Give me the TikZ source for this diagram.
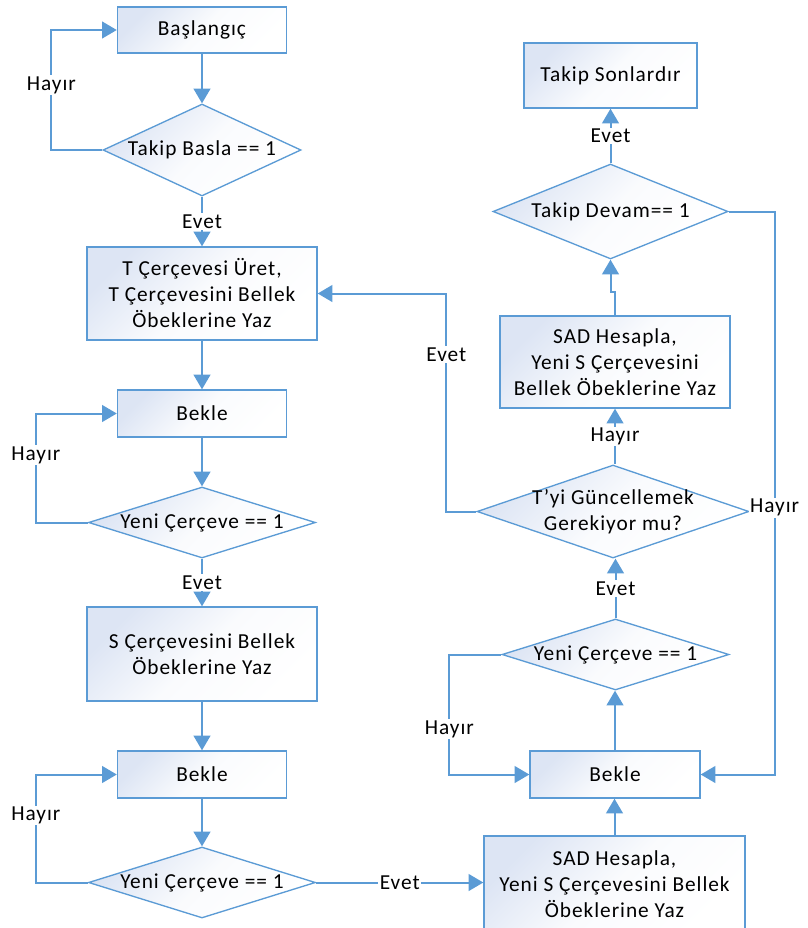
\documentclass[tikz,border=0pt]{standalone}
\usepackage{fontspec}
\setmainfont{Carlito}[LetterSpace=4.5]
\usetikzlibrary{shapes.geometric,arrows.meta}
\definecolor{flowline}{HTML}{5B9BD5}
\definecolor{flowfill}{HTML}{DDE5F4}
\begin{document}
\begin{tikzpicture}[x=0.75pt,y=-0.75pt,
    every node/.style={font=\fontsize{16}{19.5}\selectfont, align=center},
    box/.style={rectangle, draw=flowline, line width=1pt, top color=flowfill, bottom color=white, middle color=white!85!flowfill, shading angle=45, inner sep=0pt},
    decision/.style={diamond, draw=flowline, line width=1pt, top color=flowfill, bottom color=white, middle color=white!85!flowfill, shading angle=45, aspect=3, inner xsep=-25pt, inner ysep=-6pt},
    flow/.style={draw=flowline, line width=1.5pt, -{Triangle[width=12.5pt,length=11pt]}},
    answer/.style={fill=white, inner sep=1pt}]
    \useasboundingbox (0,0) rectangle (807,928);
    % left column
    \node[box, minimum width=126.8pt, minimum height=34.5pt] (baslangic) at (202,30) {Başlangıç};
    \node[decision, minimum width=148.5pt, minimum height=69pt] (takipbasla) at (202,150) {Takip Basla == 1};
    \node[box, minimum width=172.5pt, minimum height=69.75pt] (tcerceve) at (202,293.5) {T Çerçevesi Üret,\\T Çerçevesini Bellek\\Öbeklerine Yaz};
    \node[box, minimum width=126.8pt, minimum height=35.25pt] (bekle_1) at (202,413.5) {Bekle};
    \node[decision, minimum width=170.25pt, minimum height=53.25pt] (yeni_1) at (202,522.5) {Yeni Çerçeve == 1};
    \node[box, minimum width=172.5pt, minimum height=70.5pt] (scerceve) at (202,654) {S Çerçevesini Bellek\\Öbeklerine Yaz};
    \node[box, minimum width=126.8pt, minimum height=35.25pt] (bekle_2) at (202,774.5) {Bekle};
    \node[decision, minimum width=170.25pt, minimum height=53.25pt] (yeni_2) at (202,882.5) {Yeni Çerçeve == 1};
    % right column
    \node[box, minimum width=195.75pt, minimum height=72pt] (sad_1) at (614.5,884) {SAD Hesapla,\\Yeni S Çerçevesini Bellek\\Öbeklerine Yaz};
    \node[box, minimum width=127.5pt, minimum height=35.25pt] (bekle_3) at (615,774.5) {Bekle};
    \node[decision, minimum width=170.25pt, minimum height=53.25pt] (yeni_3) at (615.5,654.5) {Yeni Çerçeve == 1};
    \node[decision, minimum width=204pt, minimum height=69.75pt] (tyi) at (613,511.5) {T’yi Güncellemek\\Gerekiyor mu?};
    \node[box, minimum width=172.5pt, minimum height=69pt] (sad_2) at (615,362) {SAD Hesapla,\\Yeni S Çerçevesini\\Bellek Öbeklerine Yaz};
    \node[decision, minimum width=176.25pt, minimum height=71.25pt] (takipdevam) at (610.5,211.5) {Takip Devam== 1};
    \node[box, minimum width=129.75pt, minimum height=48.75pt] (sonlar) at (610.5,75.5) {Takip Sonlardır};
    % connectors
    \draw[flow] (baslangic) -- (takipbasla);
    \draw[flow] (takipbasla.west) -- ++(-51,0) |- node[answer, pos=0.27] (hayir_1) {Hayır} (baslangic.west);
    \draw[flow] (takipbasla.south) -- node[answer] (evet_1) {Evet} (tcerceve.north);
    \draw[flow] (tcerceve) -- (bekle_1);
    \draw[flow] (bekle_1) -- (yeni_1);
    \draw[flow] (yeni_1.west) -- ++(-52,0) |- node[answer, pos=0.31] (hayir_2) {Hayır} (bekle_1.west);
    \draw[flow] (yeni_1.south) -- node[answer] (evet_2) {Evet} (scerceve.north);
    \draw[flow] (scerceve) -- (bekle_2);
    \draw[flow] (bekle_2) -- (yeni_2);
    \draw[flow] (yeni_2.west) -- ++(-52,0) |- node[answer, pos=0.31] (hayir_3) {Hayır} (bekle_2.west);
    \draw[flow] (yeni_2.east) -- node[answer] (evet_3) {Evet} (yeni_2.east -| sad_1.west);
    \draw[flow] (sad_1.north) -- (sad_1.north |- bekle_3.south);
    \draw[flow] (bekle_3.north) -- (bekle_3.north |- yeni_3.south);
    \draw[flow] (yeni_3.west) -- ++(-52,0) |- node[answer, pos=0.31] (hayir_4) {Hayır} (bekle_3.west);
    \draw[flow] (yeni_3.north) -- node[answer] (evet_4) {Evet} (yeni_3.north |- tyi.south);
    \draw[flow] (tyi.west) -- ++(-30,0) |- node[answer, pos=0.36] (evet_5) {Evet} (tcerceve.east);
    \draw[flow] (sad_2.south |- tyi.north) -- node[answer] (hayir_5) {Hayır} (sad_2.south);
    \draw[flow] (sad_2.north) -- ++(0,-23) -| (takipdevam.south);
    \draw[flow] (takipdevam.east) -- ++(46,0) |- node[answer, pos=0.263] (hayir_6) {Hayır} (bekle_3.east);
    \draw[flow] (takipdevam.north) -- node[answer] (evet_6) {Evet} (sonlar.south);
\end{tikzpicture}
\end{document}
